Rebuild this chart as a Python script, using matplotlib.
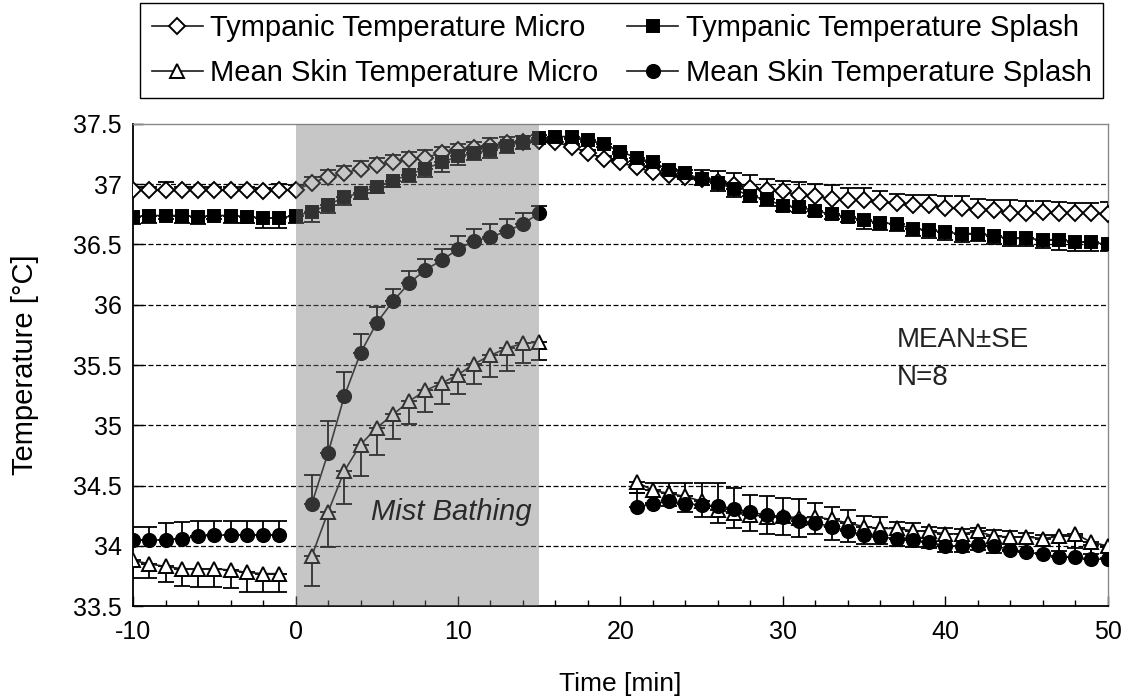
import matplotlib
matplotlib.use('Agg')
import matplotlib.pyplot as plt
import numpy as np

plt.rcParams['font.family'] = ['Liberation Sans', 'DejaVu Sans']
plt.rcParams['axes.unicode_minus'] = False

# --- Time axes (min) ---
t_tymp = list(range(-10, 51))
t_skin_pre = list(range(-10, 0))
t_skin_bath = list(range(1, 16))
t_skin_post = list(range(21, 51))

# --- Tympanic temperature, Micro (mean, +SE) ---
tymp_micro = [36.95, 36.95, 36.95, 36.95, 36.95, 36.95, 36.95, 36.95, 36.94, 36.95,
              36.95, 37.01, 37.06, 37.09, 37.13, 37.16, 37.18, 37.21, 37.22, 37.26,
              37.28, 37.30, 37.32, 37.34, 37.35, 37.36,
              37.35, 37.31, 37.26, 37.21, 37.18, 37.14, 37.10, 37.08, 37.06, 37.04,
              37.02, 36.99, 36.97, 36.95, 36.94, 36.91, 36.90, 36.88, 36.87, 36.87,
              36.85, 36.84, 36.83, 36.83, 36.80, 36.80, 36.79, 36.79, 36.76, 36.76,
              36.77, 36.76, 36.76, 36.76, 36.75]
tymp_micro_se = [0.03, 0.03, 0.07, 0.03, 0.03, 0.03, 0.03, 0.03, 0.03, 0.05,
                 0.04, 0.05, 0.06, 0.06, 0.06, 0.06, 0.06, 0.06, 0.06, 0.05,
                 0.05, 0.05, 0.06, 0.055, 0.05, 0.05,
                 0.02, 0.02, 0.02, 0.02, 0.03, 0.03, 0.04, 0.05, 0.06, 0.08,
                 0.09, 0.10, 0.11, 0.09, 0.09, 0.11, 0.10, 0.11, 0.10, 0.10,
                 0.09, 0.08, 0.08, 0.08, 0.10, 0.10, 0.09, 0.08, 0.11, 0.10,
                 0.09, 0.09, 0.08, 0.08, 0.10]

# --- Tympanic temperature, Splash (mean, -SE) ---
tymp_splash = [36.73, 36.74, 36.74, 36.74, 36.73, 36.74, 36.74, 36.73, 36.72, 36.72,
               36.74, 36.77, 36.83, 36.89, 36.93, 36.98, 37.03, 37.08, 37.13, 37.18,
               37.23, 37.26, 37.28, 37.32, 37.35, 37.38,
               37.395, 37.395, 37.37, 37.33, 37.27, 37.22, 37.18, 37.12, 37.09, 37.04,
               37.01, 36.96, 36.90, 36.875, 36.82, 36.81, 36.78, 36.75, 36.73, 36.70,
               36.68, 36.67, 36.63, 36.62, 36.60, 36.59, 36.59, 36.57, 36.55, 36.55,
               36.54, 36.54, 36.52, 36.52, 36.50]
tymp_splash_se = [0.06, 0.06, 0.03, 0.06, 0.06, 0.03, 0.06, 0.05, 0.08, 0.08,
                  0.065, 0.08, 0.065, 0.065, 0.05, 0.05, 0.05, 0.06, 0.07, 0.075,
                  0.07, 0.06, 0.06, 0.06, 0.06, 0.03,
                  0.02, 0.02, 0.02, 0.02, 0.02, 0.03, 0.03, 0.04, 0.05, 0.05,
                  0.07, 0.07, 0.05, 0.06, 0.04, 0.04, 0.04, 0.04, 0.04, 0.07,
                  0.06, 0.06, 0.06, 0.07, 0.06, 0.07, 0.06, 0.07, 0.06, 0.06,
                  0.07, 0.085, 0.07, 0.07, 0.05]

# --- Mean skin temperature, Micro (mean, -SE) ---
skin_micro_pre = [33.88, 33.85, 33.83, 33.81, 33.81, 33.81, 33.80, 33.78, 33.77, 33.77]
skin_micro_pre_se = [0.15, 0.12, 0.13, 0.14, 0.15, 0.15, 0.15, 0.16, 0.15, 0.15]
skin_micro_bath = [33.915, 34.28, 34.62, 34.84, 34.98, 35.09, 35.20, 35.29, 35.35, 35.42,
                   35.51, 35.58, 35.64, 35.68, 35.69]
skin_micro_bath_se = [0.25, 0.29, 0.27, 0.26, 0.23, 0.20, 0.19, 0.18, 0.17, 0.16,
                      0.17, 0.18, 0.19, 0.16, 0.15]
skin_micro_post = [34.53, 34.46, 34.435, 34.41, 34.37, 34.30, 34.27, 34.26, 34.24, 34.25,
                   34.23, 34.24, 34.22, 34.19, 34.16, 34.145, 34.145, 34.125, 34.12, 34.10,
                   34.10, 34.12, 34.08, 34.075, 34.075, 34.06, 34.08, 34.10, 34.03, 34.00]
skin_micro_post_se = [0.09, 0.10, 0.10, 0.13, 0.13, 0.11, 0.125, 0.14, 0.14, 0.16,
                      0.155, 0.14, 0.17, 0.16, 0.14, 0.125, 0.145, 0.135, 0.14, 0.15,
                      0.15, 0.155, 0.14, 0.12, 0.12, 0.12, 0.12, 0.12, 0.10, 0.10]

# --- Mean skin temperature, Splash (mean, +SE) ---
skin_splash_pre = [34.05, 34.05, 34.05, 34.06, 34.08, 34.09, 34.09, 34.09, 34.09, 34.09]
skin_splash_pre_se = [0.11, 0.11, 0.14, 0.14, 0.13, 0.12, 0.12, 0.12, 0.12, 0.12]
skin_splash_bath = [34.35, 34.77, 35.24, 35.60, 35.85, 36.03, 36.18, 36.29, 36.37, 36.46,
                    36.53, 36.56, 36.61, 36.67, 36.76]
skin_splash_bath_se = [0.24, 0.27, 0.20, 0.16, 0.13, 0.10, 0.10, 0.09, 0.09, 0.11,
                       0.10, 0.11, 0.10, 0.09, 0.06]
skin_splash_post = [34.32, 34.35, 34.37, 34.35, 34.34, 34.33, 34.31, 34.28, 34.255, 34.24,
                    34.21, 34.19, 34.16, 34.125, 34.09, 34.075, 34.06, 34.05, 34.03, 34.00,
                    34.00, 34.01, 34.00, 33.97, 33.95, 33.93, 33.91, 33.905, 33.89, 33.89]
skin_splash_post_se = [0.12, 0.17, 0.15, 0.17, 0.18, 0.19, 0.17, 0.145, 0.155, 0.16,
                       0.18, 0.17, 0.16, 0.175, 0.16, 0.165, 0.14, 0.14, 0.13, 0.145,
                       0.14, 0.135, 0.13, 0.15, 0.16, 0.16, 0.18, 0.18, 0.12, 0.10]

labels = ['Tympanic Temperature Micro', 'Tympanic Temperature Splash',
          'Mean Skin Temperature Micro', 'Mean Skin Temperature Splash']
ytick_labels = ['33.5', '34', '34.5', '35', '35.5', '36', '36.5', '37', '37.5']

# --- Figure ---
fig = plt.figure(figsize=(11.28, 7.0), dpi=100)
ax = fig.add_axes([0.118, 0.134, 0.864, 0.689])

line_kw = dict(color='#1a1a1a', lw=1.2)
err_kw = dict(ecolor='black', elinewidth=1.3, capsize=6, capthick=1.3)
handles = {}


def series(x, y, se, up, marker, ms, face, label=None):
    y = np.asarray(y)
    se = np.asarray(se)
    yerr = [np.zeros_like(se), se] if up else [se, np.zeros_like(se)]
    ax.errorbar(x, y, yerr=yerr, fmt='none', zorder=2, **err_kw)
    ln, = ax.plot(x, y, marker=marker, ms=ms, mfc=face, mec='black', mew=1.4,
                  zorder=3, **line_kw)
    if label:
        handles[label] = ln


series(t_tymp, tymp_micro, tymp_micro_se, True, 'D', 8.5, 'white', labels[0])
series(t_tymp, tymp_splash, tymp_splash_se, False, 's', 9, 'black', labels[1])
series(t_skin_pre, skin_micro_pre, skin_micro_pre_se, False, '^', 10, 'white', labels[2])
series(t_skin_bath, skin_micro_bath, skin_micro_bath_se, False, '^', 10, 'white')
series(t_skin_post, skin_micro_post, skin_micro_post_se, False, '^', 10, 'white')
series(t_skin_pre, skin_splash_pre, skin_splash_pre_se, True, 'o', 9.5, 'black', labels[3])
series(t_skin_bath, skin_splash_bath, skin_splash_bath_se, True, 'o', 9.5, 'black')
series(t_skin_post, skin_splash_post, skin_splash_post_se, True, 'o', 9.5, 'black')

# mist bathing period, drawn over the data like the original
ax.axvspan(0, 15, facecolor='#7a7878', alpha=0.42, lw=0, zorder=5)

# dashed horizontal grid
for yv in np.arange(34.0, 37.01, 0.5):
    ax.axhline(yv, color='black', lw=0.9, ls=(0, (4, 2)), zorder=1)

ax.text(9.6, 34.28, 'Mist Bathing', ha='center', va='center', fontsize=21,
        style='italic', color='#2a2a2a', zorder=6)
ax.text(37.0, 35.71, 'MEAN±SE', ha='left', va='center', fontsize=20, color='#222222')
ax.text(37.0, 35.39, 'N=8', ha='left', va='center', fontsize=20, color='#222222')

ax.set_xlim(-10, 50)
ax.set_ylim(33.5, 37.5)
ax.set_xticks(np.arange(-10, 51, 10))
ax.set_xticks(np.arange(-10, 51, 2), minor=True)
ax.set_yticks(np.arange(33.5, 37.51, 0.5))
ax.set_yticklabels(ytick_labels)
ax.tick_params(axis='both', which='major', direction='in', length=7, width=1,
               labelsize=18)
ax.tick_params(axis='x', which='major', pad=10)
ax.tick_params(axis='y', which='major', pad=8)
ax.tick_params(axis='x', which='minor', direction='in', length=4, width=1)

for s in ['left', 'bottom']:
    ax.spines[s].set_color('black')
    ax.spines[s].set_linewidth(1.3)
for s in ['top', 'right']:
    ax.spines[s].set_color('#8a8a8a')
    ax.spines[s].set_linewidth(1.0)

ax.set_xlabel('Time [min]', fontsize=19, labelpad=20)
ax.set_ylabel('Temperature [°C]', fontsize=21, labelpad=25)

order = [labels[0], labels[2], labels[1], labels[3]]
leg = fig.legend([handles[k] for k in order], order, loc='upper center',
                 bbox_to_anchor=(0.551, 0.996), ncol=2,
                 fontsize=21, frameon=True, fancybox=False, framealpha=1,
                 edgecolor='black', handlelength=1.75, columnspacing=1.0,
                 borderpad=0.38, labelspacing=0.6, handletextpad=0.25,
                 borderaxespad=0)
leg.get_frame().set_linewidth(1.0)

fig.savefig('out.png', dpi=100, facecolor='white')
plt.close(fig)
